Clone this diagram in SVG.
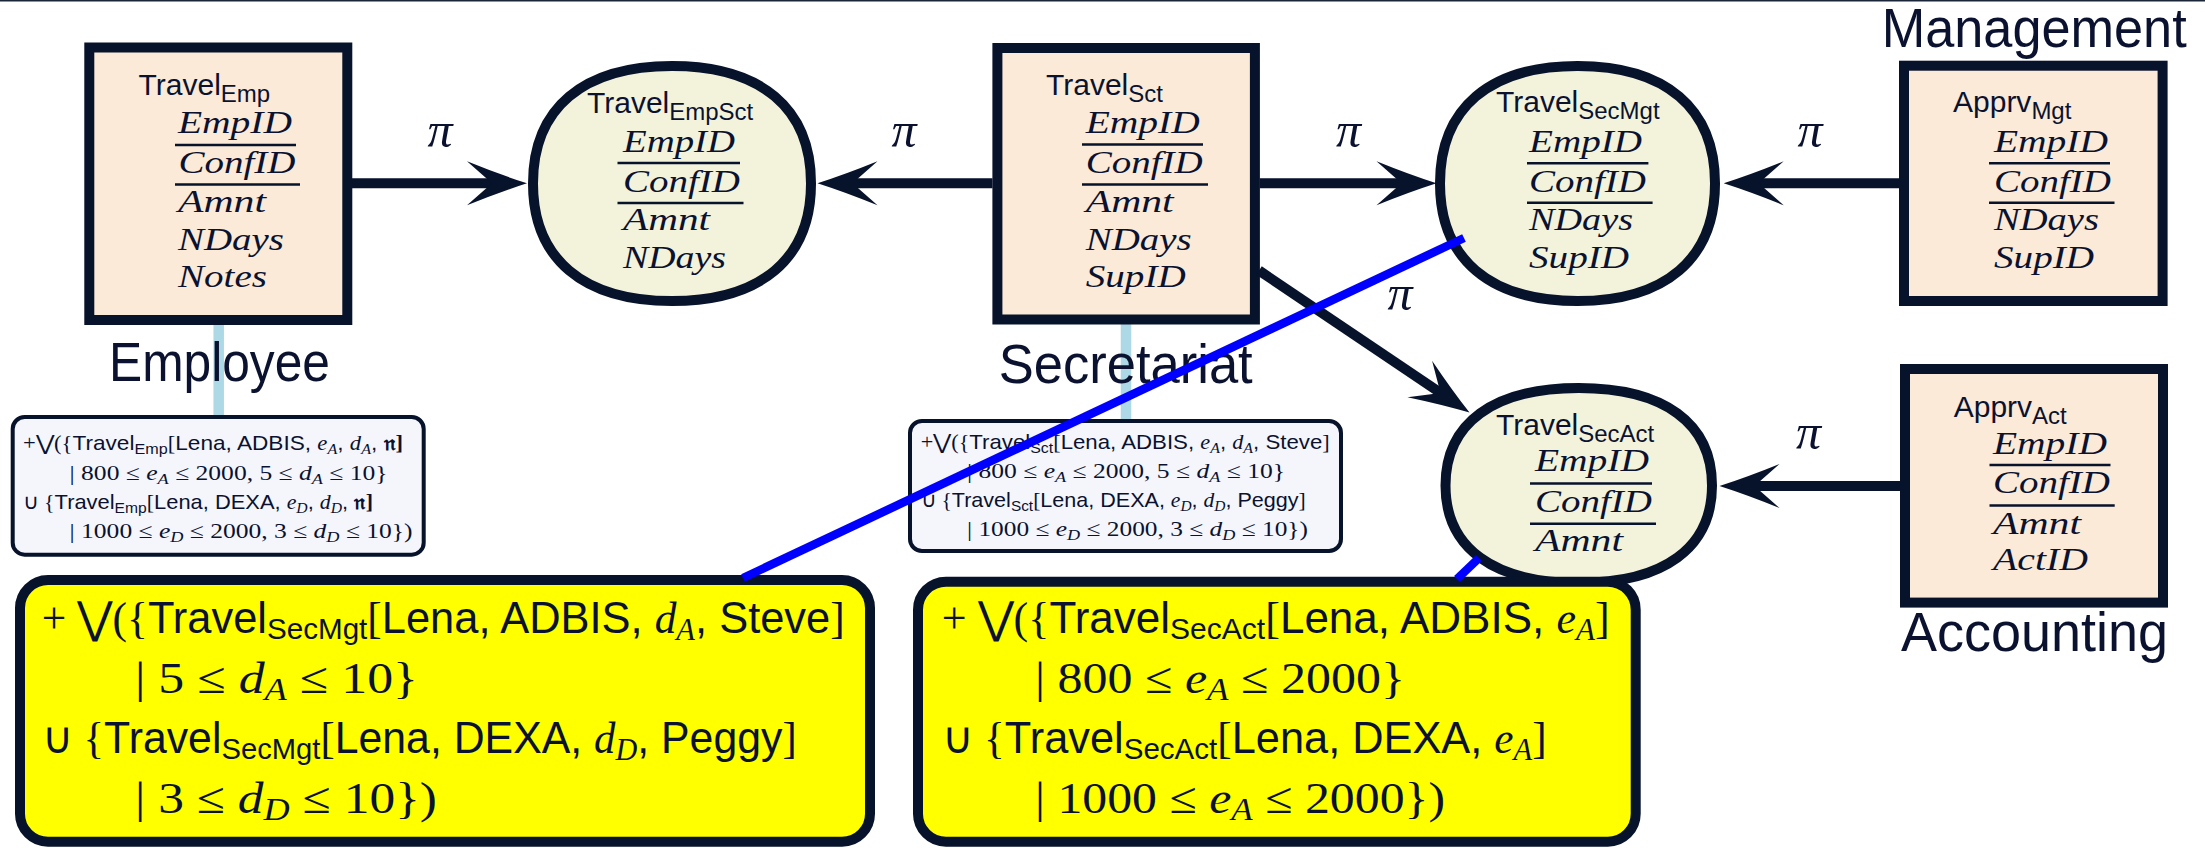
<svg xmlns="http://www.w3.org/2000/svg" xmlns:xlink="http://www.w3.org/1999/xlink" width="2205" height="848" viewBox="0 0 2205 848">
<style>
.box{fill:#FAEAD7;stroke:#07122b;stroke-width:10}
.ell{fill:#F3F3DC;stroke:#07122b;stroke-width:10}
.note{fill:#F5F6FC;stroke:#07122b;stroke-width:4}
.yel{fill:#FFFF00;stroke:#07122b;stroke-width:10}
.tether{stroke:#ADD8E6;stroke-width:10.5}
.t{font-family:"Liberation Sans",Arial,sans-serif;fill:#0a1230}
.m{font-family:"Liberation Serif","Times New Roman",serif;font-style:italic;fill:#0a1230}
.r{font-family:"Liberation Serif","Times New Roman",serif;font-style:normal;fill:#0a1230}
.ul{stroke:#07122b;stroke-width:2.6}
.shaft{stroke:#07122b;stroke-width:10;fill:none}
.blue{stroke:#0000FF;stroke-width:8.5;fill:none}
.head{fill:#07122b}
.lbl{font-family:"Liberation Sans",Arial,sans-serif;font-size:55px;fill:#0a1230}
.pi{font-family:"Liberation Serif","Times New Roman",serif;font-style:italic;font-size:50px;fill:#0a1230;text-anchor:middle}
</style>
<defs>
<path id="ah" d="M0,0 Q-28,-9 -60,-22 L-35,0 L-60,22 Q-28,9 0,0 Z"/>
</defs>
<rect x="0" y="0" width="2205" height="1.5" fill="#1a2638"/>

<!-- callout notes with tethers -->
<g id="note-emp">
<line class="tether" x1="218.7" y1="325" x2="218.7" y2="416"/>
<rect class="note" x="12.7" y="417" width="411" height="137.7" rx="12"/>
<text class="t" x="23" y="450" font-size="21" textLength="380" lengthAdjust="spacingAndGlyphs"><tspan class="r">+⋁({</tspan>Travel<tspan font-size="15" dy="4">Emp</tspan><tspan class="r" dy="-4">[</tspan>Lena, ADBIS, <tspan class="m">e</tspan><tspan class="m" font-size="15" dy="4">A</tspan><tspan dy="-4">, </tspan><tspan class="m">d</tspan><tspan class="m" font-size="15" dy="4">A</tspan><tspan dy="-4">, </tspan><tspan class="r" font-weight="bold">𝔫]</tspan></text>
<text class="r" x="69.6" y="480" font-size="21" textLength="318" lengthAdjust="spacingAndGlyphs">| 800 ≤ <tspan class="m">e</tspan><tspan class="m" font-size="15" dy="4">A</tspan><tspan dy="-4"> ≤ 2000, 5 ≤ </tspan><tspan class="m">d</tspan><tspan class="m" font-size="15" dy="4">A</tspan><tspan dy="-4"> ≤ 10}</tspan></text>
<text class="t" x="23" y="509" font-size="21" textLength="350" lengthAdjust="spacingAndGlyphs"><tspan class="r">∪ {</tspan>Travel<tspan font-size="15" dy="4">Emp</tspan><tspan class="r" dy="-4">[</tspan>Lena, DEXA, <tspan class="m">e</tspan><tspan class="m" font-size="15" dy="4">D</tspan><tspan dy="-4">, </tspan><tspan class="m">d</tspan><tspan class="m" font-size="15" dy="4">D</tspan><tspan dy="-4">, </tspan><tspan class="r" font-weight="bold">𝔫]</tspan></text>
<text class="r" x="69.6" y="538" font-size="21" textLength="343" lengthAdjust="spacingAndGlyphs">| 1000 ≤ <tspan class="m">e</tspan><tspan class="m" font-size="15" dy="4">D</tspan><tspan dy="-4"> ≤ 2000, 3 ≤ </tspan><tspan class="m">d</tspan><tspan class="m" font-size="15" dy="4">D</tspan><tspan dy="-4"> ≤ 10})</tspan></text>
</g>

<g id="note-sct">
<line class="tether" x1="1126" y1="324" x2="1126" y2="420"/>
<rect class="note" x="910" y="421" width="431" height="130" rx="12"/>
<text class="t" x="920.7" y="448.5" font-size="21" textLength="409" lengthAdjust="spacingAndGlyphs"><tspan class="r">+⋁({</tspan>Travel<tspan font-size="15" dy="4">Sct</tspan><tspan class="r" dy="-4">[</tspan>Lena, ADBIS, <tspan class="m">e</tspan><tspan class="m" font-size="15" dy="4">A</tspan><tspan dy="-4">, </tspan><tspan class="m">d</tspan><tspan class="m" font-size="15" dy="4">A</tspan><tspan dy="-4">, Steve</tspan><tspan class="r">]</tspan></text>
<text class="r" x="967" y="478" font-size="21" textLength="318" lengthAdjust="spacingAndGlyphs">| 800 ≤ <tspan class="m">e</tspan><tspan class="m" font-size="15" dy="4">A</tspan><tspan dy="-4"> ≤ 2000, 5 ≤ </tspan><tspan class="m">d</tspan><tspan class="m" font-size="15" dy="4">A</tspan><tspan dy="-4"> ≤ 10}</tspan></text>
<text class="t" x="920.7" y="507" font-size="21" textLength="385" lengthAdjust="spacingAndGlyphs"><tspan class="r">∪ {</tspan>Travel<tspan font-size="15" dy="4">Sct</tspan><tspan class="r" dy="-4">[</tspan>Lena, DEXA, <tspan class="m">e</tspan><tspan class="m" font-size="15" dy="4">D</tspan><tspan dy="-4">, </tspan><tspan class="m">d</tspan><tspan class="m" font-size="15" dy="4">D</tspan><tspan dy="-4">, Peggy</tspan><tspan class="r">]</tspan></text>
<text class="r" x="967" y="536" font-size="21" textLength="341" lengthAdjust="spacingAndGlyphs">| 1000 ≤ <tspan class="m">e</tspan><tspan class="m" font-size="15" dy="4">D</tspan><tspan dy="-4"> ≤ 2000, 3 ≤ </tspan><tspan class="m">d</tspan><tspan class="m" font-size="15" dy="4">D</tspan><tspan dy="-4"> ≤ 10})</tspan></text>
</g>

<!-- TravelEmp -->
<g id="travel-emp">
<rect class="box" x="89.3" y="47.5" width="258" height="272.5"/>
<text class="t" x="138.6" y="95" font-size="30">Travel<tspan font-size="24" dy="7">Emp</tspan></text>
<text class="m" x="178" y="133" font-size="31" textLength="114" lengthAdjust="spacingAndGlyphs">EmpID</text>
<line class="ul" x1="175" y1="145" x2="296" y2="145"/>
<text class="m" x="178.5" y="173" font-size="31" textLength="117" lengthAdjust="spacingAndGlyphs">ConfID</text>
<line class="ul" x1="175" y1="184.5" x2="300" y2="184.5"/>
<text class="m" x="178" y="212" font-size="31" textLength="88" lengthAdjust="spacingAndGlyphs">Amnt</text>
<text class="m" x="178" y="249.5" font-size="31" textLength="106" lengthAdjust="spacingAndGlyphs">NDays</text>
<text class="m" x="178" y="287" font-size="31" textLength="89" lengthAdjust="spacingAndGlyphs">Notes</text>
<text class="lbl" x="109" y="381" textLength="221" lengthAdjust="spacingAndGlyphs">Employee</text>
</g>

<!-- TravelEmpSct -->
<g id="travel-empsct">
<path class="ell" d="M533,183.5 C533,108.3 583,66 672,66 C761,66 811,108.3 811,183.5 C811,258.7 761,301 672,301 C583,301 533,258.7 533,183.5 Z"/>
<text class="t" x="587" y="113" font-size="30">Travel<tspan font-size="24" dy="7">EmpSct</tspan></text>
<text class="m" x="623" y="152" font-size="31" textLength="112" lengthAdjust="spacingAndGlyphs">EmpID</text>
<line class="ul" x1="617.5" y1="163" x2="740" y2="163"/>
<text class="m" x="623" y="192" font-size="31" textLength="117" lengthAdjust="spacingAndGlyphs">ConfID</text>
<line class="ul" x1="617.5" y1="203" x2="743.5" y2="203"/>
<text class="m" x="623" y="230" font-size="31" textLength="87" lengthAdjust="spacingAndGlyphs">Amnt</text>
<text class="m" x="623" y="268" font-size="31" textLength="103" lengthAdjust="spacingAndGlyphs">NDays</text>
</g>

<!-- TravelSct -->
<g id="travel-sct">
<rect class="box" x="997.4" y="48" width="257.5" height="271.5"/>
<text class="t" x="1046" y="95" font-size="30">Travel<tspan font-size="24" dy="7">Sct</tspan></text>
<text class="m" x="1085.7" y="133" font-size="31" textLength="114" lengthAdjust="spacingAndGlyphs">EmpID</text>
<line class="ul" x1="1082" y1="144.5" x2="1203" y2="144.5"/>
<text class="m" x="1085.7" y="173" font-size="31" textLength="117" lengthAdjust="spacingAndGlyphs">ConfID</text>
<line class="ul" x1="1082" y1="184.5" x2="1208" y2="184.5"/>
<text class="m" x="1085.7" y="212" font-size="31" textLength="88" lengthAdjust="spacingAndGlyphs">Amnt</text>
<text class="m" x="1085.7" y="249.5" font-size="31" textLength="106" lengthAdjust="spacingAndGlyphs">NDays</text>
<text class="m" x="1085.7" y="287" font-size="31" textLength="100" lengthAdjust="spacingAndGlyphs">SupID</text>
<text class="lbl" x="998.7" y="383" textLength="254" lengthAdjust="spacingAndGlyphs">Secretariat</text>
</g>

<!-- TravelSecMgt -->
<g id="travel-secmgt">
<path class="ell" d="M1440,183.5 C1440,108.3 1489.5,66 1577.5,66 C1665.5,66 1715,108.3 1715,183.5 C1715,258.7 1665.5,301 1577.5,301 C1489.5,301 1440,258.7 1440,183.5 Z"/>
<text class="t" x="1496" y="112" font-size="30">Travel<tspan font-size="24" dy="7">SecMgt</tspan></text>
<text class="m" x="1529" y="152" font-size="31" textLength="113" lengthAdjust="spacingAndGlyphs">EmpID</text>
<line class="ul" x1="1527" y1="163.3" x2="1648.4" y2="163.3"/>
<text class="m" x="1529" y="192" font-size="31" textLength="117" lengthAdjust="spacingAndGlyphs">ConfID</text>
<line class="ul" x1="1527" y1="202.7" x2="1652.6" y2="202.7"/>
<text class="m" x="1529" y="230" font-size="31" textLength="104" lengthAdjust="spacingAndGlyphs">NDays</text>
<text class="m" x="1529" y="268" font-size="31" textLength="100" lengthAdjust="spacingAndGlyphs">SupID</text>
</g>

<!-- ApprvMgt -->
<g id="apprv-mgt">
<rect class="box" x="1904" y="65.7" width="258.6" height="235.3"/>
<text class="t" x="1953" y="112" font-size="30">Apprv<tspan font-size="24" dy="7">Mgt</tspan></text>
<text class="m" x="1994" y="152" font-size="31" textLength="114" lengthAdjust="spacingAndGlyphs">EmpID</text>
<line class="ul" x1="1989" y1="163.3" x2="2110" y2="163.3"/>
<text class="m" x="1994" y="192" font-size="31" textLength="117" lengthAdjust="spacingAndGlyphs">ConfID</text>
<line class="ul" x1="1989" y1="202.7" x2="2114.5" y2="202.7"/>
<text class="m" x="1994" y="230" font-size="31" textLength="105" lengthAdjust="spacingAndGlyphs">NDays</text>
<text class="m" x="1994" y="268" font-size="31" textLength="100" lengthAdjust="spacingAndGlyphs">SupID</text>
<text class="lbl" x="1881.7" y="46.7" textLength="305" lengthAdjust="spacingAndGlyphs">Management</text>
</g>

<!-- TravelSecAct -->
<g id="travel-secact">
<path class="ell" d="M1445.5,485.5 C1445.5,423.1 1493.5,388 1578.75,388 C1664,388 1712,423.1 1712,485.5 C1712,547.9 1664,583 1578.75,583 C1493.5,583 1445.5,547.9 1445.5,485.5 Z"/>
<text class="t" x="1496" y="434.6" font-size="30">Travel<tspan font-size="24" dy="7">SecAct</tspan></text>
<text class="m" x="1535" y="471" font-size="31" textLength="114" lengthAdjust="spacingAndGlyphs">EmpID</text>
<line class="ul" x1="1530" y1="483.5" x2="1652" y2="483.5"/>
<text class="m" x="1535" y="511.5" font-size="31" textLength="117" lengthAdjust="spacingAndGlyphs">ConfID</text>
<line class="ul" x1="1530" y1="523.7" x2="1656" y2="523.7"/>
<text class="m" x="1535" y="551" font-size="31" textLength="88" lengthAdjust="spacingAndGlyphs">Amnt</text>
</g>

<!-- ApprvAct -->
<g id="apprv-act">
<rect class="box" x="1905" y="369" width="258" height="233.6"/>
<text class="t" x="1953.7" y="417" font-size="30">Apprv<tspan font-size="24" dy="7">Act</tspan></text>
<text class="m" x="1993" y="454" font-size="31" textLength="114" lengthAdjust="spacingAndGlyphs">EmpID</text>
<line class="ul" x1="1989.5" y1="465" x2="2110.5" y2="465"/>
<text class="m" x="1993" y="493.3" font-size="31" textLength="117" lengthAdjust="spacingAndGlyphs">ConfID</text>
<line class="ul" x1="1989.5" y1="505.5" x2="2114.7" y2="505.5"/>
<text class="m" x="1993" y="533.5" font-size="31" textLength="88" lengthAdjust="spacingAndGlyphs">Amnt</text>
<text class="m" x="1993" y="570" font-size="31" textLength="95" lengthAdjust="spacingAndGlyphs">ActID</text>
<text class="lbl" x="1901" y="651" textLength="267" lengthAdjust="spacingAndGlyphs">Accounting</text>
</g>

<!-- yellow result boxes -->
<g id="result-secmgt">
<rect class="yel" x="20" y="580" width="850" height="261.7" rx="28"/>
<text class="t" x="41.7" y="633.3" font-size="44" textLength="803" lengthAdjust="spacingAndGlyphs"><tspan class="r">+ ⋁({</tspan>Travel<tspan font-size="30" dy="6">SecMgt</tspan><tspan class="r" dy="-6">[</tspan>Lena, ADBIS, <tspan class="m">d</tspan><tspan class="m" font-size="31" dy="7">A</tspan><tspan dy="-7">, Steve</tspan><tspan class="r">]</tspan></text>
<text class="r" x="135" y="693.3" font-size="44" textLength="283" lengthAdjust="spacingAndGlyphs">| 5 ≤ <tspan class="m">d</tspan><tspan class="m" font-size="31" dy="7">A</tspan><tspan dy="-7"> ≤ 10}</tspan></text>
<text class="t" x="41.7" y="753.3" font-size="44" textLength="755" lengthAdjust="spacingAndGlyphs"><tspan class="r">∪ {</tspan>Travel<tspan font-size="30" dy="6">SecMgt</tspan><tspan class="r" dy="-6">[</tspan>Lena, DEXA, <tspan class="m">d</tspan><tspan class="m" font-size="31" dy="7">D</tspan><tspan dy="-7">, Peggy</tspan><tspan class="r">]</tspan></text>
<text class="r" x="135" y="813.3" font-size="44" textLength="302" lengthAdjust="spacingAndGlyphs">| 3 ≤ <tspan class="m">d</tspan><tspan class="m" font-size="31" dy="7">D</tspan><tspan dy="-7"> ≤ 10})</tspan></text>
</g>

<g id="result-secact">
<rect class="yel" x="918" y="581.7" width="717.7" height="260" rx="28"/>
<text class="t" x="941.7" y="633.3" font-size="44" textLength="668" lengthAdjust="spacingAndGlyphs"><tspan class="r">+ ⋁({</tspan>Travel<tspan font-size="30" dy="6">SecAct</tspan><tspan class="r" dy="-6">[</tspan>Lena, ADBIS, <tspan class="m">e</tspan><tspan class="m" font-size="31" dy="7">A</tspan><tspan class="r" dy="-7">]</tspan></text>
<text class="r" x="1035" y="693.3" font-size="44" textLength="370" lengthAdjust="spacingAndGlyphs">| 800 ≤ <tspan class="m">e</tspan><tspan class="m" font-size="31" dy="7">A</tspan><tspan dy="-7"> ≤ 2000}</tspan></text>
<text class="t" x="941.7" y="753.3" font-size="44" textLength="605" lengthAdjust="spacingAndGlyphs"><tspan class="r">∪ {</tspan>Travel<tspan font-size="30" dy="6">SecAct</tspan><tspan class="r" dy="-6">[</tspan>Lena, DEXA, <tspan class="m">e</tspan><tspan class="m" font-size="31" dy="7">A</tspan><tspan class="r" dy="-7">]</tspan></text>
<text class="r" x="1035" y="813.3" font-size="44" textLength="410" lengthAdjust="spacingAndGlyphs">| 1000 ≤ <tspan class="m">e</tspan><tspan class="m" font-size="31" dy="7">A</tspan><tspan dy="-7"> ≤ 2000})</tspan></text>
</g>

<!-- connectors -->
<g id="connectors">
<line class="shaft" x1="352" y1="183.3" x2="497" y2="183.3"/>
<use href="#ah" class="head" transform="translate(527,183.3)"/>
<text class="pi" x="440" y="147">π</text>

<line class="shaft" x1="992.5" y1="183.3" x2="847.5" y2="183.3"/>
<use href="#ah" class="head" transform="translate(817.5,183.3) rotate(180)"/>
<text class="pi" x="904" y="147">π</text>

<line class="shaft" x1="1259.7" y1="183.3" x2="1406.5" y2="183.3"/>
<use href="#ah" class="head" transform="translate(1436.5,183.3)"/>
<text class="pi" x="1348.5" y="147">π</text>

<line class="shaft" x1="1899" y1="183.3" x2="1753.7" y2="183.3"/>
<use href="#ah" class="head" transform="translate(1723.7,183.3) rotate(180)"/>
<text class="pi" x="1810" y="147">π</text>

<line class="shaft" x1="1900" y1="486" x2="1749.5" y2="486"/>
<use href="#ah" class="head" transform="translate(1719.5,486) rotate(180)"/>
<text class="pi" x="1808.5" y="448.5">π</text>

<line class="shaft" x1="1259" y1="270.5" x2="1444.6" y2="395.7"/>
<use href="#ah" class="head" transform="translate(1469.5,412.5) rotate(34.03)"/>
<text class="pi" x="1400" y="310">π</text>

<line class="blue" x1="1464" y1="238" x2="743" y2="578"/>
<line class="blue" x1="1479" y1="558" x2="1457" y2="579"/>
</g>
</svg>
